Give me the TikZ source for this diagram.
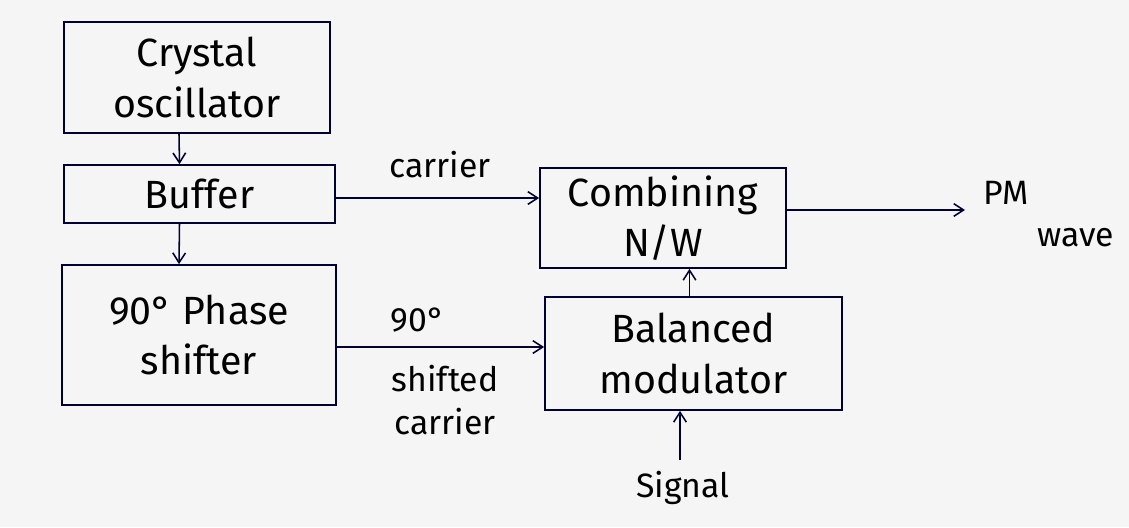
\documentclass[tikz,border=0pt]{standalone}
\usepackage{fontspec}
\setmainfont{Fira Sans}
\usetikzlibrary{arrows.meta}
\begin{document}
\begin{tikzpicture}[x=0.025cm,y=-0.025cm,
  blk/.style={draw=black!80!blue,line width=1.2pt,inner sep=2pt,align=center,font=\fontsize{28}{36}\selectfont},
  conn/.style={draw=black!80!blue,line width=1.1pt,-{Straight Barb[length=7pt,width=9pt]}},
  lbl/.style={align=center,font=\fontsize{24}{30}\selectfont,inner sep=1pt}]
\fill[black!4] (0,0) rectangle (1129,527);
\useasboundingbox (0,0) rectangle (1129,527);
\node[blk,minimum width=6.65cm,minimum height=2.775cm] (crystal) at (197,77.5) {Crystal\\oscillator};
\node[blk,minimum width=6.775cm,minimum height=1.45cm] (buffer) at (199.5,194) {Buffer};
\node[blk,minimum width=6.85cm,minimum height=3.5cm] (phase) at (199,335) {90° Phase\\shifter};
\node[blk,minimum width=6.15cm,minimum height=2.5cm] (comb) at (663,218) {Combining\\N/W};
\node[blk,minimum width=7.425cm,minimum height=2.825cm] (bal) at (693.5,353.5) {Balanced\\modulator};
\coordinate (pm) at (965,210);
\coordinate (sig) at (680,460);
\draw[conn] ([xshift=-0.45cm]crystal.south) -- ([xshift=-0.5cm]buffer.north);
\draw[conn] ([xshift=-0.5cm]buffer.south) -- ([xshift=-0.5cm]phase.north);
\draw[conn] ([yshift=-0.1cm]buffer.east) -- ([yshift=-0.1cm]buffer.east -| comb.west);
\draw[conn] ([yshift=0.2cm]comb.east) -- (pm);
\draw[conn] ([yshift=-0.3cm]phase.east) -- ([yshift=-0.3cm]phase.east -| bal.west);
\draw[conn] ([xshift=-0.1cm]bal.north) -- ([xshift=-0.1cm]bal.north |- comb.south);
\draw[conn] (sig) -- (sig |- bal.south);
\node[lbl] (lcarrier) at (440,165) {carrier};
\node[lbl,align=left,anchor=west] (lpm) at (982,214) {PM\\\hspace*{1.6em}wave};
\node[lbl] (l90) at (418,320) {90°};
\node[lbl] (lshift) at (445,400) {shifted\\carrier};
\node[lbl] (lsig) at (683,488) {Signal};
\end{tikzpicture}
\end{document}
